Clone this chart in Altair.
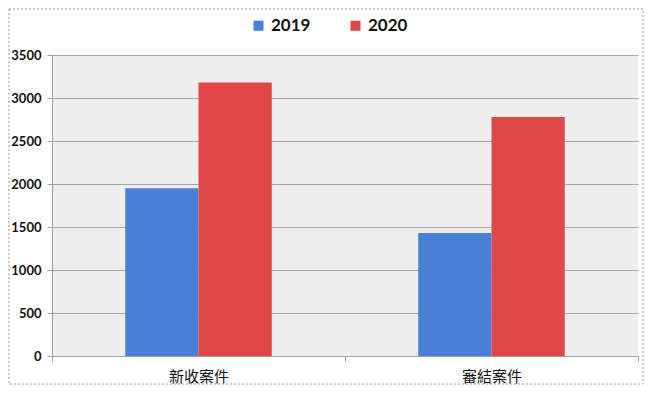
import altair as alt
import pandas as pd

categories = ["新收案件", "審結案件"]
years = ["2019", "2020"]
values_2019 = [1950, 1430]
values_2020 = [3180, 2780]
colors = ["#4a7fd8", "#df4646"]

rows = []
for i, c in enumerate(categories):
    rows.append({"cat": c, "year": "2019", "value": values_2019[i]})
    rows.append({"cat": c, "year": "2020", "value": values_2020[i]})
df = pd.DataFrame(rows)

W, H = 586, 301

bars = alt.Chart(df).mark_bar().encode(
    x=alt.X("cat:N", sort=categories, title=None,
            scale=alt.Scale(paddingInner=0, paddingOuter=0),
            axis=alt.Axis(labelAngle=0, labelFont="Noto Sans CJK TC", labelFontSize=15,
                          labelColor="#111111", labelPadding=8, domainColor="#a0a0a0",
                          tickColor="#a0a0a0", tickSize=5, tickBand="extent", grid=False)),
    xOffset=alt.XOffset("year:N", sort=years,
                        scale=alt.Scale(paddingInner=0, paddingOuter=1)),
    y=alt.Y("value:Q", title=None,
            scale=alt.Scale(domain=[0, 3500], nice=False),
            axis=alt.Axis(values=list(range(0, 3501, 500)), format="d", labelFont="Lato",
                          labelFontWeight="bold",
                          labelFontSize=13, labelColor="#111111", labelPadding=6,
                          domainColor="#a0a0a0", tickColor="#a0a0a0", tickSize=5,
                          gridColor="#a8a8a8", gridWidth=1)),
    color=alt.Color("year:N", sort=years,
                    scale=alt.Scale(domain=years, range=colors),
                    legend=alt.Legend(title=None, orient="none", direction="horizontal",
                                      legendX=198, legendY=-38, symbolType="square",
                                      symbolSize=100, symbolStrokeWidth=0,
                                      labelFont="Lato", labelFontWeight="bold",
                                      labelFontSize=17, labelColor="#111111",
                                      columnPadding=36, labelOffset=4)),
)

frame = alt.Chart(pd.DataFrame({"a": [0]})).mark_rect(
    fill=None, stroke="#9a9a9a", strokeDash=[2, 2], strokeWidth=1
).encode(
    x=alt.value(-43), x2=alt.value(W + 5), y=alt.value(-46), y2=alt.value(H + 28)
)

chart = alt.layer(bars, frame).properties(
    width=W, height=H,
    autosize=alt.AutoSizeParams(type="none"),
    padding={"left": 44, "top": 47, "right": 6, "bottom": 29},
).configure_view(fill="#eeeeee", stroke=None)

chart.save("out.html", embed_options={"renderer": "svg", "actions": False})
